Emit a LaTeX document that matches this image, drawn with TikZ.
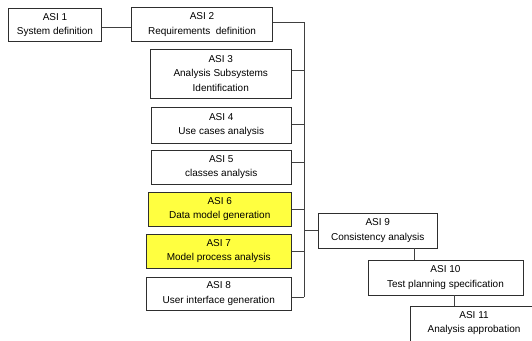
\documentclass[tikz,border=0pt]{standalone}
\usepackage{fontspec}
\setmainfont{Liberation Sans}
\begin{document}
\begin{tikzpicture}[x=0.75pt,y=-0.75pt,
  font=\fontsize{7.5pt}{11pt}\selectfont,
  asibox/.style={draw=boxline,line width=0.6pt,fill=white,align=center,inner sep=0pt},
  hot/.style={asibox,fill=asiyellow},
  link/.style={draw=linkgray,line width=0.6pt}]
\definecolor{boxline}{HTML}{2E2E2E}
\definecolor{linkgray}{HTML}{404040}
\definecolor{asiyellow}{RGB}{255,255,64}
\useasboundingbox (0,0) rectangle (532,340);
\clip (0,0) rectangle (532,340);

% activity boxes
\node[asibox,minimum width=69.75pt,minimum height=24.75pt] (a1) at (55,25) {ASI 1\\System definition};
\node[asibox,minimum width=105.75pt,minimum height=25.875pt] (a2) at (202,24.25) {ASI 2\\Requirements\ \ definition};
\node[asibox,minimum width=106.125pt,minimum height=36.75pt] (a3) at (220.75,73.5) {ASI 3\\Analysis Subsystems\\Identification};
\node[asibox,minimum width=105.375pt,minimum height=27pt] (a4) at (221.25,125) {ASI 4\\Use cases analysis};
\node[asibox,minimum width=105.375pt,minimum height=25.5pt] (a5) at (221.25,167) {ASI 5\\classes analysis};
\node[hot,minimum width=107.625pt,minimum height=25.5pt] (a6) at (219.75,209) {ASI 6\\Data model generation};
\node[hot,minimum width=109.125pt,minimum height=25.5pt] (a7) at (218.75,251) {ASI 7\\Model process analysis};
\node[asibox,minimum width=109.125pt,minimum height=24.75pt] (a8) at (218.75,293.5) {ASI 8\\User interface generation};
\node[asibox,minimum width=88.875pt,minimum height=26.25pt] (a9) at (377.75,230.5) {ASI 9\\Consistency analysis};
\node[asibox,minimum width=116.25pt,minimum height=26.25pt] (a10) at (445.5,277.5) {ASI 10\\Test planning specification};
\node[asibox,minimum width=101.25pt,minimum height=33pt] (a11) at (477.5,328) {};
\node[align=center,inner sep=0pt] (a11t) at (474,323) {ASI 11\\Analysis approbation};

% connectors
\coordinate (tx) at (304,0);
\coordinate (v1) at (414,0);
\coordinate (v2) at (454,0);
\draw[link] ([yshift=-2pt]a1.east) -- ([yshift=-2pt]a1.east -| a2.west);
\draw[link] ([yshift=1.1pt]a2.east) -- ([yshift=1.1pt]a2.east -| tx)
  -- ([yshift=-2.6pt]a8.east -| tx);
\draw[link] ([yshift=2.6pt]a3.east) -- ([yshift=2.6pt]a3.east -| tx);
\draw[link] ([yshift=0.7pt]a4.east) -- ([yshift=0.7pt]a4.east -| tx);
\draw[link] ([yshift=3.4pt]a5.east) -- ([yshift=3.4pt]a5.east -| tx);
\draw[link] (a6.east) -- (a6.east -| tx);
\draw[link] (a7.east) -- (a7.east -| tx);
\draw[link] ([yshift=-2.6pt]a8.east) -- ([yshift=-2.6pt]a8.east -| tx);
\draw[link] (a9.west -| tx) -- (a9.west);
\draw[link] (a9.south -| v1) -- (a10.north -| v1);
\draw[link] (a10.south -| v2) -- (a11.north -| v2);
\end{tikzpicture}
\end{document}
